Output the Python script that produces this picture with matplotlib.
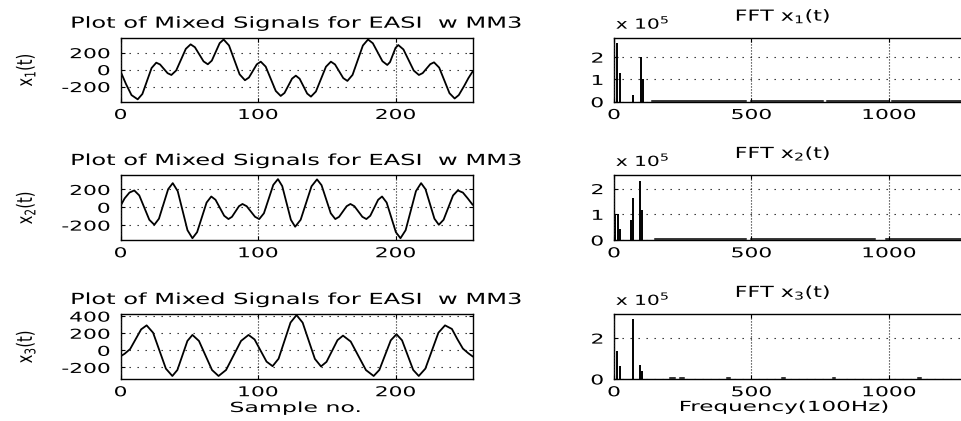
import matplotlib
matplotlib.use('Agg')
import matplotlib.pyplot as plt
from matplotlib.patheffects import AbstractPathEffect
from matplotlib.transforms import Affine2D
from matplotlib.path import Path

# mixed signals, sample index -> amplitude
sig1_n = [0, 4, 8, 12.5, 15.9, 22.6, 26, 28.75, 34.25, 37, 40.5, 47.5, 51, 54.1, 60.4, 63.5,
          66.4, 72.1, 75, 78.9, 86.6, 90.5, 93.4, 99.1, 102, 105.6, 112.9, 116.5, 119.25,
          124.75, 127.5, 130.25, 135.75, 138.5, 142.1, 149.4, 153, 156, 162, 165, 168.75,
          176.25, 180, 183.5, 190.5, 194, 196, 200, 202, 205.75, 213.25, 217, 219.75, 225.25,
          228, 231.75, 239.25, 243, 246, 250, 253, 256]
sig1_v = [-20, -170, -300, -350, -287, 19, 82, 61, -42, -63, -10, 245, 298, 264, 97, 63,
          106, 312, 355, 285, -55, -125, -93, 62, 94, 35, -251, -310, -275,
          -106, -71, -107, -282, -318, -258, 34, 94, 61, -100, -133, -62,
          284, 355, 311, 99, 55, 89, 256, 290, 238, -11, -63, -41, 64,
          86, 24, -278, -340, -300, -190, -100, -24]

sig2_n = [0, 3, 6.5, 10, 13.65, 20.95, 24.6, 27.95, 34.65, 38, 41.6, 48.7, 52.3, 55.7, 62.6,
          66, 69.1, 75.4, 78.5, 81.05, 86.15, 88.7, 91.75, 97.85, 100.9, 104.3, 111.1, 114.5,
          117.6, 123.9, 127, 131, 138.9, 142.9, 146.2, 152.9, 156.2, 158.95, 164.45, 167.2,
          170.1, 175.9, 178.8, 181.65, 187.35, 190.2, 193.55, 200.25, 203.6, 207.35, 214.85,
          218.6, 221.8, 228.3, 231.5, 234.95, 241.85, 245.3, 249, 252.5, 256]
sig2_v = [15, 100, 165, 189, 133, -140, -196, -128, 203, 271, 181, -257, -347, -279, 53,
          121, 84, -95, -132, -107, 12, 37, 12, -107, -132, -67, 251, 316,
          238, -140, -218, -140, 235, 313, 248, -67, -132, -107, 12, 37,
          12, -107, -132, -95, 84, 121, 53, -279, -347, -257, 181,
          271, 203, -128, -196, -140, 133, 189, 165, 100, 30]

sig3_n = [0, 3, 7, 11, 15, 19, 23.7, 33, 37.7, 41.35, 48.65, 52.3, 57.05, 66.55, 71.3, 76.75,
          87.65, 93.1, 97.5, 106.2, 110.6, 114.95, 123.65, 128, 132.45, 141.35, 145.8, 149.8,
          157.8, 161.8, 167.4, 178.5, 184.1, 188.25, 196.55, 200.7, 204.75, 212.85, 216.9,
          221.7, 231.2, 236, 241, 245, 249, 253, 256]
sig3_v = [-70, -40, 15, 130, 245, 292, 206, -214, -300, -230, 110, 180, 110, -230, -300, -230,
          110, 180, 127, -132, -185, -98, 325, 412, 324, -100, -188, -135,
          119, 172, 103, -231, -300, -229, 117, 188, 117, -229, -300,
          -214, 206, 292, 250, 130, 20, -35, -70]

# spectra: main lines (frequency bin, magnitude) and low-level floor spans
fft1_f = [12, 22, 68, 97, 105]
fft1_m = [2.62e5, 1.30e5, 0.30e5, 1.99e5, 1.00e5]
fft1_floor = [(140, 480), (500, 760), (775, 1000), (1010, 1280)]

fft2_f = [5, 14, 22, 61, 68, 95, 102]
fft2_m = [1.0e5, 1.0e5, 0.42e5, 0.79e5, 1.65e5, 2.30e5, 1.15e5]
fft2_floor = [(150, 480), (500, 950), (990, 1280)]

fft3_f = [12, 22, 68, 95, 102]
fft3_m = [1.38e5, 0.64e5, 2.94e5, 0.69e5, 0.41e5]
fft3_floor = [(205, 222), (240, 256), (412, 422), (612, 622), (795, 805), (1105, 1115)]

floor_level = 2500

sig_ylim = [(-378, 376), (-367, 362), (-335, 425)]
sig_yticks = [[-200, 0, 200], [-200, 0, 200], [-200, 0, 200, 400]]
fft_ylim = [(0, 2.87e5), (0, 2.53e5), (0, 3.18e5)]
fft_yticks = [[0, 1e5, 2e5], [0, 1e5, 2e5], [0, 2e5]]


class Widen(AbstractPathEffect):
    """draw text glyphs stretched along one direction"""
    def __init__(self, s, anchor='center', axis=0):
        super().__init__()
        self.s = s
        self.anchor = anchor
        self.axis = axis

    def draw_path(self, renderer, gc, tpath, affine, rgbFace=None):
        v = tpath.vertices
        if tpath.codes is not None:
            v = v[tpath.codes != Path.CLOSEPOLY]
        if len(v) == 0:
            return
        lo, hi = v[:, self.axis].min(), v[:, self.axis].max()
        piv = {'left': lo, 'center': (lo + hi) / 2, 'right': hi}[self.anchor]
        sc = [1, 1]
        sc[self.axis] = self.s
        sh = [0, 0]
        sh[self.axis] = piv
        tr = Affine2D().translate(-sh[0], -sh[1]).scale(*sc).translate(*sh) + affine
        renderer.draw_path(gc, tpath, tr, rgbFace)


plt.rcParams['font.family'] = 'DejaVu Sans'
plt.rcParams['axes.unicode_minus'] = False
plt.rcParams['mathtext.default'] = 'regular'

fig = plt.figure(figsize=(9.61, 4.21), dpi=100)

rows = [(0.7584, 0.1520), (0.4299, 0.1544), (0.0998, 0.1544)]
sigs = [(sig1_n, sig1_v), (sig2_n, sig2_v), (sig3_n, sig3_v)]
ffts = [(fft1_f, fft1_m, fft1_floor), (fft2_f, fft2_m, fft2_floor), (fft3_f, fft3_m, fft3_floor)]


def style(ax):
    for sp in ax.spines.values():
        sp.set_linewidth(1.0)
        sp.set_color('k')
    ax.tick_params(direction='in', length=3, width=0.8, top=True, right=True,
                   labelsize=9.8, colors='k')
    ax.tick_params(axis='y', pad=7.5)
    ax.tick_params(axis='x', pad=4.5)
    ax.yaxis.grid(True, color='0.1', linestyle=(0, (1.2, 6)), linewidth=0.8)
    ax.xaxis.grid(True, color='0.1', linestyle=(0, (1, 1.7)), linewidth=0.8)
    ax.set_axisbelow(False)
    for t in ax.get_xticklabels():
        t.set_path_effects([Widen(1.6, 'center')])
    for t in ax.get_yticklabels():
        t.set_path_effects([Widen(1.6, 'right')])


for i in range(3):
    bottom, h = rows[i]

    # time-domain signal
    ax = fig.add_axes([0.1254, bottom, 0.3663, h])
    n, v = sigs[i]
    ax.plot(n, v, color='k', linewidth=1.3)
    ax.set_xlim(0, 256)
    ax.set_ylim(*sig_ylim[i])
    ax.set_xticks([0, 100, 200])
    ax.set_yticks(sig_yticks[i])
    style(ax)
    ax.annotate('Plot of Mixed Signals for EASI  w MM3', xy=(0.5, 1), xycoords='axes fraction',
                xytext=(0, 10), textcoords='offset pixels', ha='center', va='baseline',
                fontsize=11, path_effects=[Widen(1.58, 'center')])
    ax.annotate('x$_%d$(t)' % (i + 1), xy=(0, 0.5), xycoords='axes fraction',
                xytext=(-95, 0), textcoords='offset pixels', ha='center', va='center',
                rotation=90, fontsize=10.5, path_effects=[Widen(1.45, 'center', axis=1)])
    if i == 2:
        ax.annotate('Sample no.', xy=(0.497, 0), xycoords='axes fraction',
                    xytext=(0, -33), textcoords='offset pixels', ha='center', va='baseline',
                    fontsize=10, path_effects=[Widen(1.7, 'center')])

    # magnitude spectrum
    ax = fig.add_axes([0.6389, bottom, 0.3663, h])
    f, m, fl = ffts[i]
    ax.vlines(f, 0, m, color='k', linewidth=1.4)
    for a, b in fl:
        ax.plot([a, b], [floor_level, floor_level], color='k', linewidth=1.1)
    ax.set_xlim(0, 1280)
    ax.set_ylim(*fft_ylim[i])
    ax.set_xticks([0, 500, 1000])
    ax.set_yticks(fft_yticks[i], ['%d' % (t / 1e5) for t in fft_yticks[i]])
    style(ax)
    ax.annotate('FFT x$_%d$(t)' % (i + 1), xy=(0.48, 1), xycoords='axes fraction',
                xytext=(0, 17), textcoords='offset pixels', ha='center', va='baseline',
                fontsize=11, path_effects=[Widen(1.45, 'center')])
    ax.annotate('x 10$^5$', xy=(0, 1), xycoords='axes fraction',
                xytext=(2, 9), textcoords='offset pixels', ha='left', va='baseline',
                fontsize=10, path_effects=[Widen(1.45, 'left')])
    if i == 2:
        ax.annotate('Frequency(100Hz)', xy=(0.483, 0), xycoords='axes fraction',
                    xytext=(0, -32), textcoords='offset pixels', ha='center', va='baseline',
                    fontsize=10, path_effects=[Widen(1.66, 'center')])

fig.savefig('out.png', dpi=100)
